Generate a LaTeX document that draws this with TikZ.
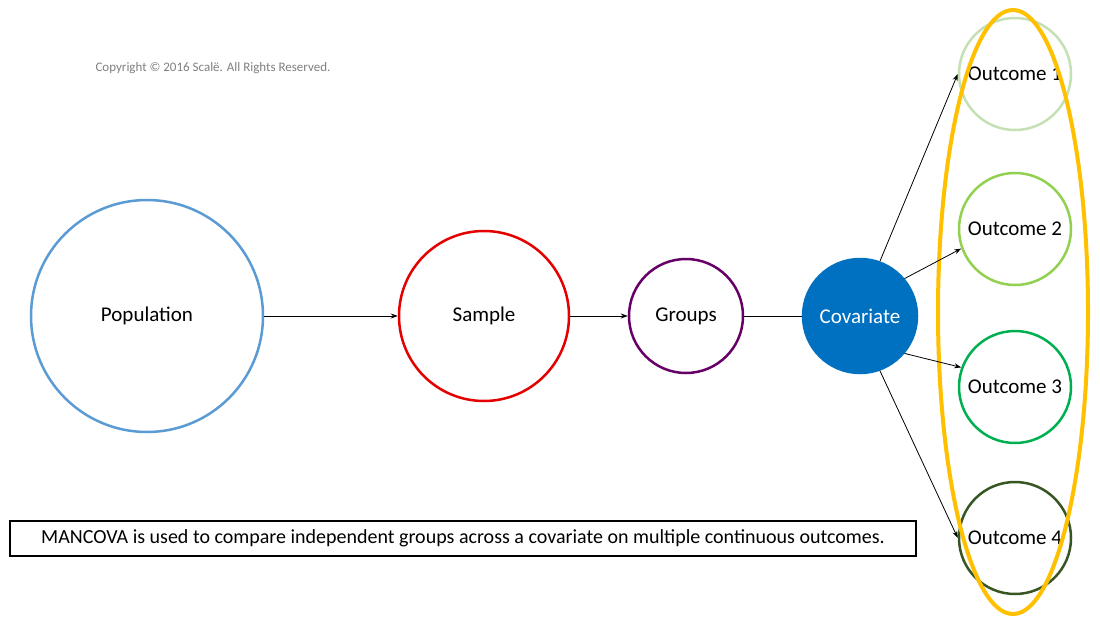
\documentclass[tikz,border=0pt]{standalone}
\usepackage{fontspec}
\setmainfont{Carlito}
\usetikzlibrary{arrows.meta}
\definecolor{popc}{HTML}{5B9BD5}
\definecolor{covc}{HTML}{0070C0}
\definecolor{o1}{HTML}{C5E0B4}
\definecolor{o2}{HTML}{92D050}
\definecolor{o3}{HTML}{00B050}
\definecolor{o4}{HTML}{375623}
\definecolor{yel}{HTML}{FFC000}
\begin{document}
\begin{tikzpicture}[x=1pt,y=-1pt,
  circ/.style={circle,line width=2.5pt,inner sep=0pt,font=\fontsize{21}{24}\selectfont},
  arr/.style={-{Stealth[length=7pt,width=5pt]},line width=0.8pt}]
\useasboundingbox[fill=white] (0,0) rectangle (1100,618);
\node[circ,draw=popc,minimum size=232pt] (pop) at (147,316) {Population};
\node[circ,draw=red!90!black,minimum size=170pt] (sam) at (484,316) {Sample};
\node[circ,draw=violet!80!black,minimum size=114pt] (grp) at (686,316) {Groups};
\node[circ,fill=covc,draw=covc,text=white,minimum size=114pt] (cov) at (860,316) {Covariate};
\node[circ,draw=o1,minimum size=112pt] (out1) at (1015,74) {Outcome 1};
\node[circ,draw=o2,minimum size=112pt] (out2) at (1015,229) {Outcome 2};
\node[circ,draw=o3,minimum size=112pt] (out3) at (1015,387) {Outcome 3};
\node[circ,draw=o4,minimum size=112pt] (out4) at (1015,538) {Outcome 4};
\draw[yel,line width=4pt] (1013,312) ellipse [x radius=75, y radius=302];
\draw[arr] (pop) -- (sam);
\draw[arr] (sam) -- (grp);
\draw[line width=0.8pt] (grp) -- (cov);
\draw[arr] (cov.70) -- (out1.west);
\draw[arr] (cov.40) -- (out2.200);
\draw[arr] (cov.-40) -- (out3.160);
\draw[arr] (cov.-70) -- (out4.west);
\node[draw,line width=2pt,minimum width=906pt,minimum height=35pt,inner sep=0pt,font=\fontsize{20}{24}\selectfont] (cap) at (463,538.5) {MANCOVA is used to compare independent groups across a covariate on multiple continuous outcomes.};
\node[anchor=west,text=gray,font=\fontsize{13}{15}\selectfont] (copy) at (92,68) {Copyright © 2016 Scalë. All Rights Reserved.};
\end{tikzpicture}
\end{document}
